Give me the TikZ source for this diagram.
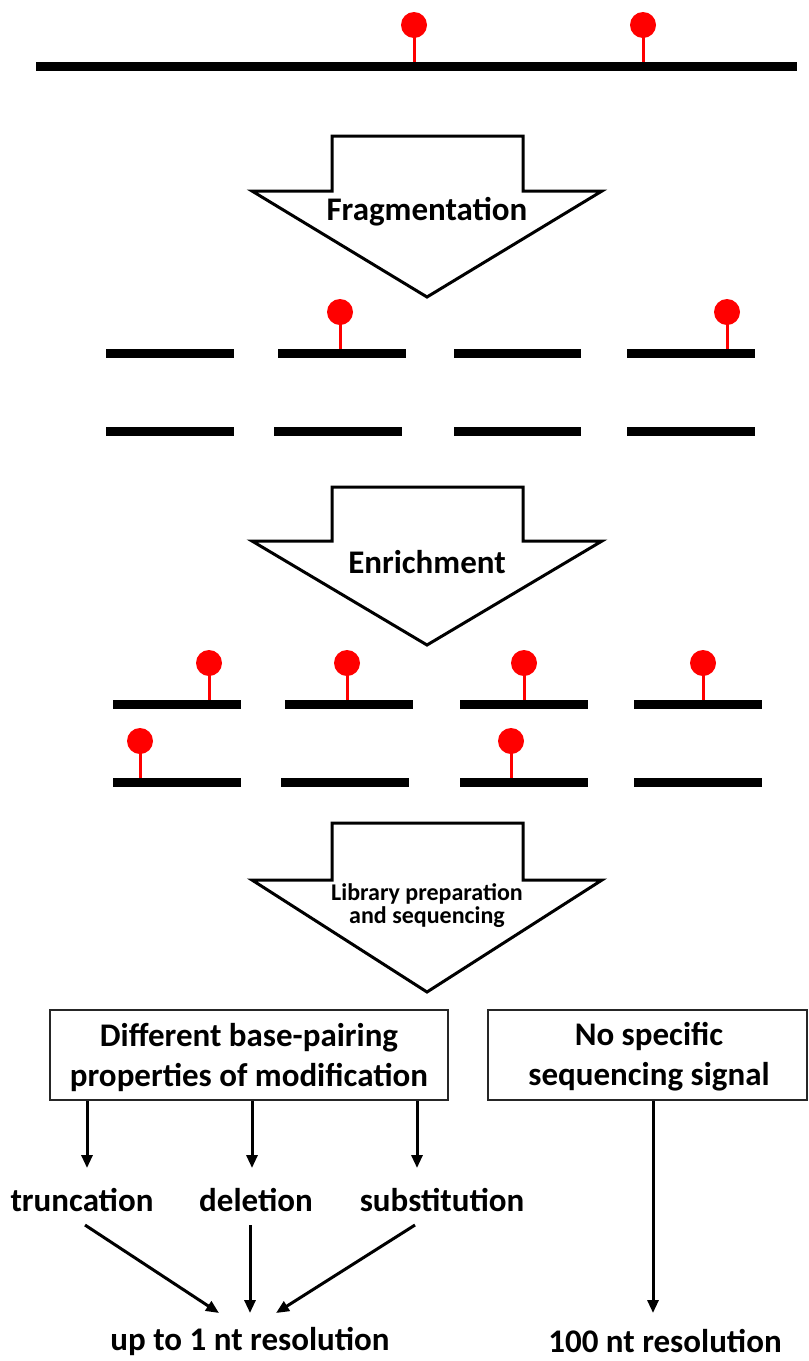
\documentclass[tikz,border=0pt]{standalone}
\usepackage{fontspec}
\setmainfont{Carlito}
\usetikzlibrary{arrows.meta}
\begin{document}
\begin{tikzpicture}[x=1pt,y=-1pt,
  stemline/.style={red, line width=3pt},
  bigarrow/.style={draw=black, line width=3pt, fill=white, line join=miter},
  lbl/.style={font=\fontsize{33}{40}\selectfont\bfseries, inner sep=0pt, align=center},
  smalllbl/.style={font=\fontsize{24}{23}\selectfont\bfseries, inner sep=0pt, align=center},
  arr/.style={line width=3pt, -{Triangle[length=13pt,width=11pt]}},
  boxstyle/.style={draw=black!85, line width=1.5pt, inner sep=0pt},
  pin/.pic={\draw[stemline] (0,0) -- (0,-25); \fill[red] (0,-37) circle[radius=13];}
]
\useasboundingbox (0,0) rectangle (809,1361);

% top strand
\fill (36,62) rectangle (797,71);
\pic at (414,62) {pin};
\pic at (643,62) {pin};

% arrow 1
\draw[bigarrow] (332,136) -- (523,136) -- (523,191) -- (602,191) -- (427,297) -- (252,191) -- (332,191) -- cycle;
\node[lbl] (frag) at (427,212) {Fragmentation};

% fragments row 1
\foreach \a/\b in {106/234, 278/406, 454/581, 627/755} {\fill (\a,349) rectangle (\b,358);}
\pic at (340,349) {pin};
\pic at (727,349) {pin};
% fragments row 2
\foreach \a/\b in {106/234, 274/402, 454/581, 627/755} {\fill (\a,427) rectangle (\b,436);}

% arrow 2
\draw[bigarrow] (332,487) -- (523,487) -- (523,541) -- (602,541) -- (427,645) -- (252,541) -- (332,541) -- cycle;
\node[lbl] (enr) at (427,562) {Enrichment};

% enriched row A
\foreach \a/\b in {113/241, 285/413, 460/588, 634/762} {\fill (\a,700) rectangle (\b,709);}
\foreach \p in {209, 347, 524, 703} {\pic at (\p,700) {pin};}
% enriched row B
\foreach \a/\b in {113/241, 281/409, 460/588, 634/762} {\fill (\a,778) rectangle (\b,787);}
\pic at (140,778) {pin};
\pic at (511,778) {pin};

% arrow 3
\draw[bigarrow] (332,823) -- (523,823) -- (523,880) -- (602,880) -- (427,992) -- (252,880) -- (332,880) -- cycle;
\node[smalllbl] (lib) at (427,906) {Library preparation\\and sequencing};

% boxes
\node[boxstyle, minimum width=398pt, minimum height=90pt] (lbox) at (249,1055) {};
\node[lbl] (ltext) at (249,1057) {Different base-pairing\\properties of modification};
\node[boxstyle, minimum width=319pt, minimum height=90pt] (rbox) at (647.5,1055) {};
\node[lbl] (rtext) at (649,1057) {No specific\\sequencing signal};

% labels
\node[lbl] (trunc) at (82,1200) {truncation};
\node[lbl] (del) at (256,1200) {deletion};
\node[lbl] (subst) at (442,1200) {substitution};
\node[lbl] (up) at (250,1341) {up to 1 nt resolution};
\node[lbl] (hund) at (665,1341) {100 nt resolution};

% connector ends
\coordinate (a1) at (87,1168);
\coordinate (a2) at (252,1168);
\coordinate (a3) at (417,1168);
\coordinate (t1) at (85,1225);
\coordinate (t2) at (250,1225);
\coordinate (t3) at (415,1225);
\coordinate (u1) at (219,1313);
\coordinate (u2) at (250,1313);
\coordinate (u3) at (276,1313);
\coordinate (h1) at (653,1313);

\draw[arr] (lbox.south -| a1) -- (a1);
\draw[arr] (lbox.south -| a2) -- (a2);
\draw[arr] (lbox.south -| a3) -- (a3);
\draw[arr] (t1) -- (u1);
\draw[arr] (t2) -- (u2);
\draw[arr] (t3) -- (u3);
\draw[arr] (rbox.south -| h1) -- (h1);
\end{tikzpicture}
\end{document}
